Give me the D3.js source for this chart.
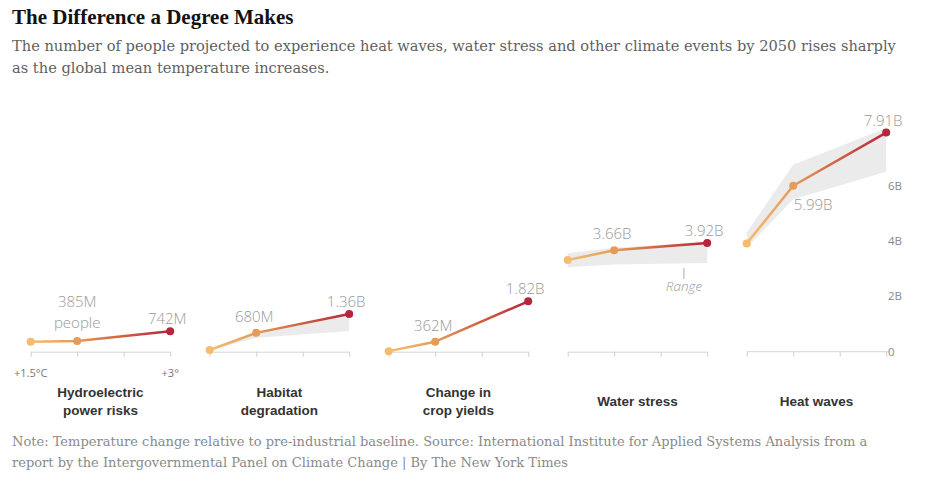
<!DOCTYPE html>
<html>
<head>
<meta charset="utf-8">
<script src="https://cdn.jsdelivr.net/npm/d3@7"></script>
<style>
  html, body { margin: 0; padding: 0; background: #fff; }
  svg { display: block; }
</style>
</head>
<body>
<svg id="chart" width="937" height="479"></svg>
<script>
// ---------- DATA ----------
const categories = ["Hydroelectric|power risks", "Habitat|degradation", "Change in|crop yields", "Water stress", "Heat waves"];
const temps = [1.5, 2, 3];
const axisTicks = [1.5, 2, 2.5, 3];
const hydroValues   = [0.36, 0.385, 0.742];
const habitatValues = [0.06, 0.68, 1.36];
const cropValues    = [0.02, 0.362, 1.82];
const waterValues   = [3.31, 3.66, 3.92];
const heatValues    = [3.91, 5.99, 7.91];
const habitatLow  = [0.05, 0.5, 0.75];
const habitatHigh = [0.08, 0.7, 1.38];
const waterLow  = [3.05, 3.15, 3.2];
const waterHigh = [3.55, 3.75, 3.97];
const heatLow  = [3.75, 5.5, 6.5];
const heatHigh = [4.3, 6.75, 8.08];
const midLabels = ["385M", "680M", "362M", "3.66B", "5.99B"];
const endLabels = ["742M", "1.36B", "1.82B", "3.92B", "7.91B"];
const yTicks = [0, 2, 4, 6];
const tempTickLabels = ["+1.5°C", "+3°"];
const title = "The Difference a Degree Makes";
const subtitle = ["The number of people projected to experience heat waves, water stress and other climate events by 2050 rises sharply",
                  "as the global mean temperature increases."];
const note = ["Note: Temperature change relative to pre-industrial baseline. Source: International Institute for Applied Systems Analysis from a",
              "report by the Intergovernmental Panel on Climate Change | By The New York Times"];

const series = [hydroValues, habitatValues, cropValues, waterValues, heatValues];
const lows  = [null, habitatLow, null, waterLow, heatLow];
const highs = [null, habitatHigh, null, waterHigh, heatHigh];

// ---------- LAYOUT ----------
const svg = d3.select("#chart");
svg.append("rect").attr("width", 937).attr("height", 479).attr("fill", "#fff");

const panelStep = 179, panelX0 = 30.7, panelW = 139.5;
const y = d3.scaleLinear().domain([0, 8]).range([351.7, 130.1]);
const color = d3.scaleLinear().domain([1.5, 2, 2.5, 3])
  .range(["#f5bc6e", "#e49c58", "#cf5f42", "#b5253c"]);

// Title & texts
svg.append("text").attr("x", 12).attr("y", 24)
  .attr("font-family", "Liberation Serif, serif").attr("font-weight", "bold")
  .attr("font-size", 21).attr("fill", "#121212").text(title);

function fitText(sel, target) {
  const w = sel.node().getComputedTextLength();
  const fs = parseFloat(sel.attr("font-size"));
  return fs * target / w;
}
const sub = svg.append("g").attr("font-family", "DejaVu Serif, serif").attr("fill", "#5f5f5f");
const s1 = sub.append("text").attr("x", 12).attr("y", 51).attr("font-size", 14).text(subtitle[0]);
const subFs = fitText(s1, 884);
s1.attr("font-size", subFs);
sub.append("text").attr("x", 12).attr("y", 73).attr("font-size", subFs).text(subtitle[1]);

const nt = svg.append("g").attr("font-family", "DejaVu Serif, serif").attr("fill", "#8a8a8a");
const n1 = nt.append("text").attr("x", 12).attr("y", 446).attr("font-size", 12).text(note[0]);
const noteFs = fitText(n1, 856);
n1.attr("font-size", noteFs);
nt.append("text").attr("x", 12).attr("y", 467).attr("font-size", noteFs).text(note[1]);

// gradient defs
const defs = svg.append("defs");

const sansLight = "Open Sans, Liberation Sans, sans-serif";

categories.forEach((cat, i) => {
  const x0 = panelX0 + i * panelStep;
  const x = d3.scaleLinear().domain([1.5, 3]).range([x0, x0 + panelW]);
  const g = svg.append("g");

  const gid = "grad" + i;
  const grad = defs.append("linearGradient").attr("id", gid)
    .attr("gradientUnits", "userSpaceOnUse")
    .attr("x1", x(1.5)).attr("x2", x(3)).attr("y1", 0).attr("y2", 0);
  color.domain().forEach(t => {
    grad.append("stop").attr("offset", (t - 1.5) / 1.5).attr("stop-color", color(t));
  });

  // axis
  const ax = g.append("g").attr("transform", `translate(0,${y(0)})`)
    .call(d3.axisBottom(x).tickValues(axisTicks).tickSize(5).tickFormat("").tickSizeOuter(0));
  ax.select(".domain").attr("stroke", "#d6d6d6");
  ax.selectAll(".tick line").attr("stroke", "#cfcfcf");
  if (i === 4) {
    ax.select(".domain").attr("d", `M${x(1.5)},0H${x(3) + 3}`);
  }

  // band
  if (lows[i]) {
    const band = temps.map((t, k) => ({ t, lo: lows[i][k], hi: highs[i][k] }));
    g.append("path").datum(band)
      .attr("d", d3.area().x(d => x(d.t)).y0(d => y(d.lo)).y1(d => y(d.hi)))
      .attr("fill", "#e9e9e9").attr("opacity", 0.9);
  }

  // line
  const pts = temps.map((t, k) => ({ t, v: series[i][k] }));
  g.append("path").datum(pts)
    .attr("d", d3.line().x(d => x(d.t)).y(d => y(d.v)))
    .attr("fill", "none").attr("stroke", `url(#${gid})`).attr("stroke-width", 2.5)
    .attr("stroke-linejoin", "round");
  g.selectAll("circle").data(pts).join("circle")
    .attr("cx", d => x(d.t)).attr("cy", d => y(d.v)).attr("r", 4)
    .attr("fill", d => color(d.t));

  // value labels
  const mid = pts[1], end = pts[2];
  const lab = g.append("g").attr("font-family", sansLight).attr("font-weight", 300)
    .attr("font-size", 15).attr("fill", "#9a9a9a").attr("text-anchor", "middle");
  if (i === 0) {
    lab.append("text").attr("x", x(mid.t)).attr("y", y(mid.v) - 34).text(midLabels[i]);
    lab.append("text").attr("x", x(mid.t)).attr("y", y(mid.v) - 13).text("people");
  } else if (i === 4) {
    lab.append("text").attr("x", x(mid.t) + 20).attr("y", y(mid.v) + 24).text(midLabels[i]);
  } else {
    lab.append("text").attr("x", x(mid.t) - 2).attr("y", y(mid.v) - 11).text(midLabels[i]);
  }
  lab.append("text").attr("x", x(end.t) - 3).attr("y", y(end.v) - 7).text(endLabels[i]);

  if (i === 3) {
    const rx = x(2.75);
    g.append("line").attr("x1", rx).attr("x2", rx)
      .attr("y1", y(waterLow[2]) + 5).attr("y2", y(waterLow[2]) + 16)
      .attr("stroke", "#aaa").attr("stroke-width", 1);
    lab.append("text").attr("x", rx).attr("y", y(waterLow[2]) + 28)
      .attr("font-style", "italic").attr("font-size", 13.5).text("Range");
  }

  // temperature tick labels
  if (i === 0) {
    const tl = g.append("g").attr("font-family", sansLight).attr("font-size", 11)
      .attr("fill", "#777").attr("text-anchor", "middle");
    tl.append("text").attr("x", x(1.5)).attr("y", 377).text(tempTickLabels[0]);
    tl.append("text").attr("x", x(3)).attr("y", 377).text(tempTickLabels[1]);
  }

  // category label
  const lines = cat.split("|");
  const ct = g.append("text").attr("font-family", "Liberation Sans, Arial, sans-serif")
    .attr("font-weight", "bold").attr("font-size", 13.5).attr("fill", "#333")
    .attr("text-anchor", "middle");
  if (lines.length === 2) {
    ct.append("tspan").attr("x", x(2.25)).attr("y", 397).text(lines[0]);
    ct.append("tspan").attr("x", x(2.25)).attr("y", 415).text(lines[1]);
  } else {
    ct.append("tspan").attr("x", x(2.25)).attr("y", 406).text(lines[0]);
  }
});

// shared y axis on the right
const yAx = svg.append("g").attr("transform", "translate(884,0)")
  .call(d3.axisRight(y).tickValues(yTicks).tickSize(0).tickPadding(4)
    .tickFormat(d => d === 0 ? "0" : d + "B"));
yAx.select(".domain").remove();
yAx.selectAll("text").attr("font-family", sansLight).attr("font-size", 11.5).attr("fill", "#888");
</script>
</body>
</html>
